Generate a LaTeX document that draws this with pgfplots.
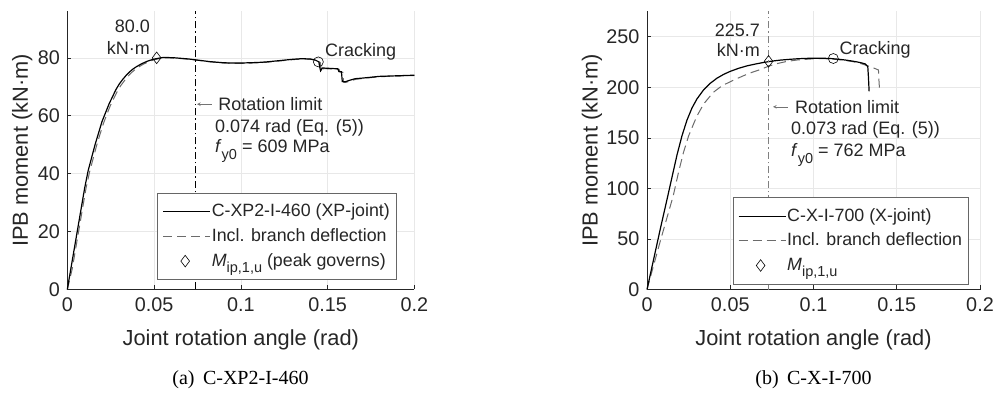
\documentclass[border=0pt]{standalone}
\usepackage{fontspec}
\setmainfont{Liberation Sans}
\newfontfamily\capfont{Liberation Serif}
\usepackage{pgfplots}
\pgfplotsset{compat=1.18}

\definecolor{axc}{gray}{0.15}
\definecolor{gridc}{gray}{0.91}
\definecolor{dashc}{gray}{0.42}

\newcommand{\tfont}{\fontsize{19.8bp}{23bp}\selectfont}
\newcommand{\lfont}{\fontsize{21.8bp}{25bp}\selectfont}
\newcommand{\afont}{\fontsize{18bp}{21bp}\selectfont}
\newcommand{\gfont}{\fontsize{17.8bp}{21bp}\selectfont}
\newcommand{\sub}[1]{\raisebox{-6.5bp}{\fontsize{14.5bp}{16bp}\selectfont #1}}

\pgfplotsset{
  myax/.style={
    scale only axis, height=278bp,
    axis x line*=bottom, axis y line*=left,
    every outer x axis line/.append style={-},
    every outer y axis line/.append style={-},
    axis line style={color=axc, line width=0.7bp},
    tick align=inside, major tick length=4bp,
    tick style={color=axc, line width=0.6bp},
    grid=major, major grid style={color=gridc, line width=0.6bp},
    xmin=0, xmax=0.2, xtick={0,0.05,0.1,0.15,0.2},
    xticklabels={0,0.05,0.1,0.15,0.2},
    tick label style={font=\tfont, text=axc},
    xticklabel style={yshift=-4.5bp},
    yticklabel style={xshift=-4bp},
    xlabel={Joint rotation angle (rad)},
    ylabel={IPB moment (kN·m)},
    label style={font=\lfont, text=axc},
    clip=false,
    legend cell align=left,
    legend style={draw=black!60, line width=0.6bp, fill=white, font=\gfont,
      text=axc, anchor=north west, inner xsep=5bp, inner ysep=7bp, row sep=1.6bp,
      nodes={inner sep=1bp, text height=15.5bp, text depth=5.5bp}},
  },
  linelegend/.style={legend image code/.code={\draw[##1] (0bp,0bp) -- (47bp,0bp);}},
  diamlegend/.style={legend image code/.code={\draw[black, line width=0.6bp, mark=diamond, mark size=5.8bp] plot coordinates {(22bp,0bp)};}},
  solidc/.style={black, line width=1.2bp},
  dashcv/.style={dashc, line width=1bp, dash pattern=on 9bp off 5bp},
  dashdot/.style={line width=0.7bp, dash pattern=on 7bp off 3bp on 1.5bp off 3bp},
}

\begin{document}
\begin{tikzpicture}
\useasboundingbox (0,0) rectangle (998bp,395bp);

% ---------------- (a) ----------------
\begin{axis}[myax, width=347bp, at={(67.3bp,105.5bp)}, anchor=south west,
  ymin=0, ymax=96, ytick={0,20,40,60,80}, yticklabels={0,20,40,60,80},
  xlabel style={at={(axis description cs:0.5,-0.18)}, anchor=center},
  ylabel style={at={(axis description cs:-0.1297,0.5)}, anchor=center},
  legend style={at={(axis description cs:0.2594,0.3468)}}]
\addplot[dashcv, forget plot] coordinates {
(0,0) (0.0028,7) (0.0048,14) (0.0068,21) (0.0088,28) (0.0108,35) (0.0128,40.5)
(0.0148,45) (0.0168,49.5) (0.0188,53.5) (0.0208,57.3) (0.0228,60.5) (0.0248,63.5)
(0.0268,66) (0.0288,68.4) (0.0308,70.4) (0.0328,72) (0.0348,73.5) (0.0368,74.8)
(0.0388,75.8) (0.0408,76.7) (0.0438,77.8) (0.0468,78.6) (0.0498,79.3) (0.0528,79.7)
(0.0558,80.0) (0.0588,80.0) (0.0625,79.9) (0.0665,79.7) (0.0705,79.5) (0.0745,79.2)
(0.0785,78.9) (0.0825,78.6) (0.0865,78.4) (0.0905,78.2) (0.0955,78.1) (0.1005,78.1)
(0.1055,78.2) (0.1105,78.3) (0.1155,78.5) (0.1205,78.8) (0.1255,79.1) (0.1305,79.4)
(0.1355,79.6) (0.1405,79.5) (0.1435,79.1) (0.1458,78.4) (0.1462,76.6) (0.1467,75.3)
(0.1477,76.3) (0.1505,76.2) (0.1535,76.1) (0.1567,76.0) (0.1571,75.1) (0.1588,75.0)
(0.1592,71.6) (0.1605,71.5) (0.1635,72.1) (0.1665,72.6) (0.1705,72.9) (0.1755,73.2)
(0.1805,73.5) (0.1855,73.6) (0.1905,73.7) (0.1955,73.8) (0.2,73.9)};
\addplot[solidc, forget plot] coordinates {
(0,0) (0.002,7) (0.004,14) (0.006,21) (0.008,28) (0.010,35) (0.012,41)
(0.014,45.5) (0.016,50) (0.018,54) (0.020,58) (0.022,61) (0.024,64)
(0.026,66.5) (0.028,69) (0.030,71) (0.032,72.6) (0.034,74) (0.036,75.2)
(0.038,76.2) (0.040,77) (0.043,78) (0.046,78.8) (0.049,79.4) (0.052,79.8)
(0.055,80.1) (0.058,80.1) (0.062,80.0) (0.066,79.8) (0.070,79.6) (0.074,79.3)
(0.078,79.0) (0.082,78.7) (0.086,78.5) (0.090,78.3) (0.095,78.2) (0.100,78.2)
(0.105,78.3) (0.110,78.4) (0.115,78.6) (0.120,78.9) (0.125,79.2) (0.130,79.5)
(0.135,79.7) (0.140,79.6) (0.143,79.2) (0.145,78.6) (0.1455,76.8) (0.146,75.5)
(0.147,76.5) (0.150,76.4) (0.153,76.3) (0.156,76.2) (0.1565,75.3) (0.158,75.2)
(0.1585,71.8) (0.160,71.7) (0.163,72.3) (0.166,72.8) (0.170,73.0) (0.175,73.3)
(0.180,73.6) (0.185,73.7) (0.190,73.8) (0.195,73.9) (0.200,74.0)};
\addplot[black, dashdot, forget plot] coordinates {(0.074,0) (0.074,96)};
\addplot[only marks, mark=diamond, mark size=5.8bp, mark options={black, fill=white, line width=0.6bp}, forget plot] coordinates {(0.0515,80.0)};
\addplot[only marks, mark=o, mark size=5bp, mark options={black, line width=0.6bp}, forget plot] coordinates {(0.1447,78.6)};
\node[font=\afont, text=axc, anchor=base east, inner sep=0pt] at (axis cs:0.0477,88.8) {80.0};
\node[font=\afont, text=axc, anchor=base east, inner sep=0pt] at (axis cs:0.0477,81.2) {kN·m};
\node[font=\afont, text=axc, anchor=base west, inner sep=0pt] at (axis cs:0.1485,80.3) {Cracking};
\draw[black!55, line width=0.6bp, ->, >=stealth] (axis cs:0.0832,64.0) -- (axis cs:0.0748,64.0);
\node[font=\afont, text=axc, anchor=base west, inner sep=0pt] at (axis cs:0.0869,61.8) {Rotation limit};
\node[font=\afont, text=axc, anchor=base west, inner sep=0pt] at (axis cs:0.0851,54.1) {0.074 rad (Eq. (5))};
\node[font=\afont, text=axc, anchor=base west, inner sep=0pt] at (axis cs:0.0851,47.2) {\textit{f}\sub{y0} = 609 MPa};
\addlegendimage{linelegend, solidc}
\addlegendentry{C-XP2-I-460 (XP-joint)}
\addlegendimage{linelegend, dashcv}
\addlegendentry{Incl. branch deflection}
\addlegendimage{diamlegend}
\addlegendentry{\textit{M}\sub{ip,1,u} (peak governs)}
\end{axis}

% ---------------- (b) ----------------
\begin{axis}[myax, width=333bp, at={(647bp,105.5bp)}, anchor=south west,
  ymin=0, ymax=275, ytick={0,50,100,150,200,250}, yticklabels={0,50,100,150,200,250},
  xlabel style={at={(axis description cs:0.5,-0.18)}, anchor=center},
  ylabel style={at={(axis description cs:-0.1652,0.5)}, anchor=center},
  legend style={at={(axis description cs:0.2574,0.331)}}]
\addplot[dashcv, forget plot] coordinates {
(0,0) (0.004,24) (0.008,48) (0.012,71) (0.0158,93) (0.0188,115) (0.0218,135)
(0.025,152) (0.0298,171) (0.034,183.5) (0.0398,195) (0.045,201.5) (0.0518,207)
(0.058,211.5) (0.063,214.8) (0.0679,217.5) (0.0735,221.2) (0.0785,223.6) (0.0839,225.6)
(0.090,227) (0.0999,228.2) (0.105,228.4) (0.110,228.1) (0.114,227.5) (0.118,226.8)
(0.124,225.3) (0.128,223.7) (0.134,220.5) (0.139,217.2) (0.1393,207) (0.1397,197)};
\addplot[solidc, forget plot] coordinates {
(0,0) (0.004,30) (0.008,60) (0.012,89) (0.015,111) (0.018,133) (0.021,152)
(0.024,167.5) (0.027,179.5) (0.030,188.5) (0.034,197.5) (0.038,204) (0.042,209)
(0.046,212.8) (0.050,215.8) (0.055,218.8) (0.060,221.2) (0.065,223) (0.070,224.6)
(0.075,225.9) (0.080,226.9) (0.085,227.6) (0.090,228.2) (0.095,228.6) (0.100,228.8)
(0.105,228.8) (0.110,228.5) (0.115,227.8) (0.120,226.8) (0.125,225.5) (0.128,224.5)
(0.131,223.2) (0.1326,220.4) (0.1330,210) (0.1334,196)};
\addplot[black!50, dashdot, forget plot] coordinates {(0.073,0) (0.073,275)};
\addplot[only marks, mark=diamond, mark size=5.8bp, mark options={black, line width=0.6bp}, forget plot] coordinates {(0.073,225.7)};
\addplot[only marks, mark=o, mark size=5bp, mark options={black, line width=0.6bp}, forget plot] coordinates {(0.1119,228.5)};
\node[font=\afont, text=axc, anchor=base east, inner sep=0pt] at (axis cs:0.0679,250.3) {225.7};
\node[font=\afont, text=axc, anchor=base east, inner sep=0pt] at (axis cs:0.0679,230.5) {kN·m};
\node[font=\afont, text=axc, anchor=base west, inner sep=0pt] at (axis cs:0.1155,232.2) {Cracking};
\draw[black!55, line width=0.6bp, ->, >=stealth] (axis cs:0.0845,180.7) -- (axis cs:0.0757,180.7);
\node[font=\afont, text=axc, anchor=base west, inner sep=0pt] at (axis cs:0.0889,174.3) {Rotation limit};
\node[font=\afont, text=axc, anchor=base west, inner sep=0pt] at (axis cs:0.0865,152.9) {0.073 rad (Eq. (5))};
\node[font=\afont, text=axc, anchor=base west, inner sep=0pt] at (axis cs:0.0865,131.4) {\textit{f}\sub{y0} = 762 MPa};
\addlegendimage{linelegend, solidc}
\addlegendentry{C-X-I-700 (X-joint)}
\addlegendimage{linelegend, dashcv}
\addlegendentry{Incl. branch deflection}
\addlegendimage{diamlegend}
\addlegendentry{\textit{M}\sub{ip,1,u}}
\end{axis}

\node[font=\capfont\fontsize{20bp}{24bp}\selectfont, anchor=base, inner sep=0pt] at (240.5bp,10.4bp) {(a)\hspace{0.42em}C-XP2-I-460};
\node[font=\capfont\fontsize{20bp}{24bp}\selectfont, anchor=base, inner sep=0pt] at (813.5bp,10.4bp) {(b)\hspace{0.42em}C-X-I-700};
\end{tikzpicture}
\end{document}
